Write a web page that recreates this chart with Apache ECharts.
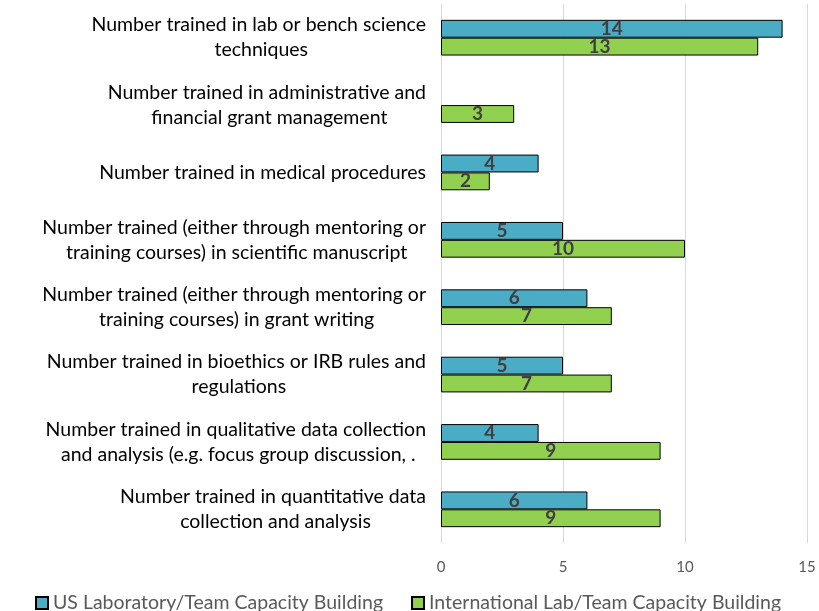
<!DOCTYPE html>
<html>
<head>
<meta charset="utf-8">
<script src="https://cdn.jsdelivr.net/npm/echarts@6/dist/echarts.min.js"></script>
<style>
html,body{margin:0;padding:0;background:#fff;}
#chart{width:819px;height:611px;}
</style>
</head>
<body>
<div id="chart"></div>
<script>
const categories = [
  "Number trained in lab or bench science \ntechniques",
  "Number trained in administrative and \nfinancial grant management",
  "Number trained in medical procedures ",
  "Number trained (either through mentoring or \ntraining courses) in scientific manuscript",
  "Number trained (either through mentoring or \ntraining courses) in grant writing",
  "Number trained in bioethics or IRB rules and \nregulations",
  "Number trained in qualitative data collection \nand analysis (e.g. focus group discussion, .",
  "Number trained in quantitative data \ncollection and analysis"
];
const seriesNames = ["US Laboratory/Team Capacity Building", "International Lab/Team Capacity Building"];
const usValues = [14, null, 4, 5, 6, 5, 4, 6];
const intlValues = [13, 3, 2, 10, 7, 7, 9, 9];
const xTicks = [0, 5, 10, 15];

const FONT = "Lato, 'Open Sans', sans-serif";
const chart = echarts.init(document.getElementById('chart'));

const labelStyle = {
  show: true,
  position: 'inside',
  color: '#404040',
  fontWeight: 'bold',
  fontSize: 19,
  fontFamily: FONT
};

chart.setOption({
  animation: false,
  backgroundColor: '#ffffff',
  grid: { left: 441, right: 12, top: 4, bottom: 68, containLabel: false },
  xAxis: {
    type: 'value',
    min: xTicks[0],
    max: xTicks[xTicks.length - 1],
    interval: xTicks[1] - xTicks[0],
    axisLine: { show: false },
    axisTick: { show: false },
    splitLine: { show: true, lineStyle: { color: '#d9d9d9', width: 1 } },
    axisLabel: { color: '#595959', fontSize: 15, fontFamily: FONT, margin: 17 }
  },
  yAxis: {
    type: 'category',
    inverse: true,
    data: categories,
    axisLine: { show: false },
    axisTick: { show: false },
    axisLabel: {
      margin: 10,
      align: 'right',
      formatter: function (v) {
        return v.split('\n').map(function (l) { return '{c|' + l + '}'; }).join('\n');
      },
      rich: {
        c: { align: 'center', fontSize: 19.5, lineHeight: 25, color: '#000000', fontFamily: FONT }
      }
    }
  },
  legend: {
    top: 588,
    left: 30,
    itemWidth: 12,
    itemHeight: 12,
    itemGap: 28,
    icon: 'rect',
    textStyle: { color: '#595959', fontSize: 19.5, fontFamily: FONT },
    data: seriesNames
  },
  series: [
    {
      name: seriesNames[0],
      type: 'bar',
      data: usValues,
      barGap: '0%',
      barCategoryGap: '47%',
      itemStyle: { color: '#4BACC6', borderColor: '#000000', borderWidth: 1 },
      label: labelStyle
    },
    {
      name: seriesNames[1],
      type: 'bar',
      data: intlValues,
      barGap: '0%',
      barCategoryGap: '47%',
      itemStyle: { color: '#92D050', borderColor: '#000000', borderWidth: 1 },
      label: labelStyle
    }
  ]
});
</script>
</body>
</html>
